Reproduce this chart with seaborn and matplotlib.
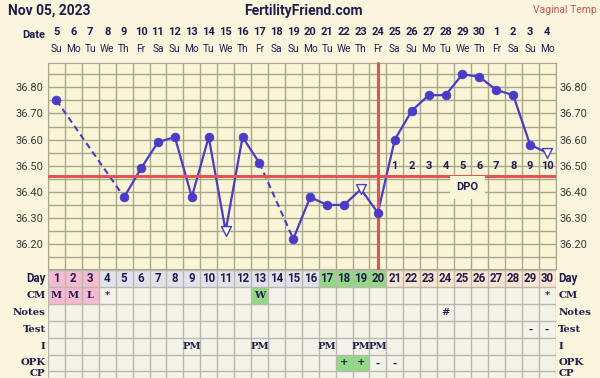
import numpy as np
import pandas as pd
import matplotlib
matplotlib.use("Agg")
import matplotlib.pyplot as plt
import matplotlib.transforms as mtrans
from matplotlib.patches import Rectangle
import seaborn as sns

# ---------------- data ----------------
title_date = "Nov 05, 2023"
site_name = "FertilityFriend.com"
temp_kind = "Vaginal Temp"
date_nums = ["5", "6", "7", "8", "9", "10", "11", "12", "13", "14", "15", "16", "17", "18", "19",
             "20", "21", "22", "23", "24", "25", "26", "27", "28", "29", "30", "1", "2", "3", "4"]
weekdays = ["Su", "Mo", "Tu", "We", "Th", "Fr", "Sa"] * 4 + ["Su", "Mo"]
cycle_days = list(range(1, 31))
temps = [36.75, None, None, None, 36.38, 36.49, 36.59, 36.61, 36.38, 36.61,
         36.25, 36.61, 36.51, None, 36.22, 36.38, 36.35, 36.35, 36.41, 36.32,
         36.60, 36.71, 36.77, 36.77, 36.85, 36.84, 36.79, 36.77, 36.58, 36.55]
discarded_days = [11, 19, 30]
coverline_temp = 36.46
ovulation_day = 20
dpo_days = list(range(21, 31))
dpo_labels = [str(i) for i in range(1, 11)]
y_tick_values = [36.20, 36.30, 36.40, 36.50, 36.60, 36.70, 36.80]

row_labels = ["Day", "CM", "Notes", "Test", "I", "OPK", "CP"]
cm_entries = {1: "M", 2: "M", 3: "L", 4: "*", 13: "W", 30: "*"}
cm_colored = {1: "pink", 2: "pink", 3: "pink", 13: "green"}
notes_entries = {24: "#"}
test_entries = {29: "-", 30: "-"}
i_entries = {9: "PM", 13: "PM", 17: "PM", 19: "PM", 20: "PM"}
opk_entries = {18: "+", 19: "+", 20: "-", 21: "-"}
opk_colored = {18: "green", 19: "green"}
day_phase = ["pink"] * 3 + ["lav"] * 13 + ["green"] * 4 + ["peach"] * 10

# ---------------- style ----------------
PAGE = "#FAF5DC"
PLOT = "#F9F5D6"
GRID = "#ABA68E"
LINE = "#4A3CC6"
RED = "#DE5552"
NAVY = "#1F1D4E"
TABLE_BG = "#F4F3EA"
TGRID = "#B9B8AE"
CELL = {"pink": "#F6BBD0", "lav": "#E2E2EC", "green": "#93D884", "peach": "#FDE4D0"}

sns.set_style("white")
plt.rcParams["font.family"] = ["Roboto", "DejaVu Sans"]

W, H = 600, 378
fig = plt.figure(figsize=(W / 100, H / 100), dpi=100, facecolor=PAGE)

L, R = 48, 555.5
T_top, T_bot = 63, 269
ax = fig.add_axes([L / W, 1 - T_bot / H, (R - L) / W, (T_bot - T_top) / H])
ax.set_facecolor(PLOT)
ax.set_xlim(0.5, 30.5)
ax.set_ylim(36.105, 36.893)

for xv in np.arange(0.5, 31, 1):
    ax.axvline(xv, color=GRID, lw=1.0, zorder=1)
for yv in np.arange(36.10, 36.91, 0.05):
    ax.axhline(yv, color=GRID, lw=1.0, zorder=1)
for s in ax.spines.values():
    s.set_color(GRID)

df = pd.DataFrame({"day": cycle_days, "temp": temps})
df["temp"] = df["temp"].astype(float)
valid = df.dropna()

# solid runs and dashed bridges
runs, cur = [], []
for d, t in zip(df["day"], df["temp"]):
    if np.isnan(t):
        if cur:
            runs.append(cur)
        cur = []
    else:
        cur.append(d)
if cur:
    runs.append(cur)
for run in runs:
    sub = df[df["day"].isin(run)]
    if len(sub) > 1:
        sns.lineplot(data=sub, x="day", y="temp", ax=ax, color=LINE, lw=1.6, zorder=3)
for a, b in zip(runs[:-1], runs[1:]):
    sub = df[df["day"].isin([a[-1], b[0]])]
    sns.lineplot(data=sub, x="day", y="temp", ax=ax, color=LINE, lw=1.5,
                 linestyle=(0, (3, 2)), zorder=3)

# coverline & ovulation line
ax.axhline(coverline_temp, color=RED, lw=2.2, zorder=4)
ax.plot([ovulation_day, ovulation_day], [36.105, 36.893], color=RED, lw=2.2, zorder=4,
        clip_on=False)

normal = valid[~valid["day"].isin(discarded_days)]
disc = valid[valid["day"].isin(discarded_days)]
sns.scatterplot(data=normal, x="day", y="temp", ax=ax, color=LINE, s=40,
                edgecolor=LINE, linewidth=0.5, zorder=5)
sns.scatterplot(data=disc, x="day", y="temp", ax=ax, marker="v", s=50,
                facecolor="white", edgecolor=LINE, linewidth=1.0, zorder=5)

for d, lab in zip(dpo_days, dpo_labels):
    ax.text(d, 36.50, lab, ha="center", va="center", fontsize=8, fontweight="bold",
            color=NAVY, zorder=6)
ax.text(25.3, 36.417, "DPO", ha="center", va="center", fontsize=8, fontweight="bold",
        color=NAVY, zorder=6,
        bbox=dict(facecolor=PLOT, edgecolor="none", boxstyle="square,pad=0.55"))

ax.set_xticks([])
ax.set_yticks(y_tick_values)
ax.set_yticklabels([f"{v:.2f}" for v in y_tick_values])
ax.tick_params(axis="y", length=0, labelsize=8, labelcolor="#3A3A3A", pad=3,
               labelright=True, labelleft=True)
ax.set_xlabel("")
ax.set_ylabel("")
if ax.get_legend():
    ax.get_legend().remove()

# ---------------- header ----------------
bt = mtrans.blended_transform_factory(ax.transData, fig.transFigure)
fig.text(8 / W, 1 - 11 / H, title_date, ha="left", va="center", fontsize=10,
         fontweight="bold", color=NAVY)
fig.text(303 / W, 1 - 11 / H, site_name, ha="center", va="center", fontsize=10,
         fontweight="bold", color=NAVY)
fig.text(597 / W, 1 - 10 / H, temp_kind, ha="right", va="center", fontsize=7.5,
         color="#C55A55")
fig.text(45 / W, 1 - 35 / H, "Date", ha="right", va="center", fontsize=8,
         fontweight="bold", color=NAVY)
for d, dn, wd in zip(cycle_days, date_nums, weekdays):
    ax.text(d, 1 - 32 / H, dn, transform=bt, ha="center", va="center", fontsize=8,
            fontweight="bold", color=NAVY)
    ax.text(d, 1 - 49.5 / H, wd, transform=bt, ha="center", va="center", fontsize=7.3,
            color=NAVY)

# ---------------- table ----------------
row_h = 16.9
tab_top = 270
axt = fig.add_axes([L / W, 0, (R - L) / W, (H - tab_top) / H])
axt.set_xlim(0.5, 30.5)
nrows_vis = (H - tab_top) / row_h
axt.set_ylim(nrows_vis, 0)
axt.set_facecolor(TABLE_BG)
axt.axis("off")
axt.add_patch(Rectangle((0.5, 0), 30, nrows_vis, facecolor=TABLE_BG, edgecolor="none", zorder=0))

for d, ph in zip(cycle_days, day_phase):
    axt.add_patch(Rectangle((d - 0.5, 0), 1, 1, facecolor=CELL[ph], edgecolor="none", zorder=1))
    axt.text(d, 0.5, str(d), ha="center", va="center", fontsize=8.3, fontweight="bold",
             color=NAVY, zorder=3)
for d, c in cm_colored.items():
    axt.add_patch(Rectangle((d - 0.5, 1), 1, 1, facecolor=CELL[c], edgecolor="none", zorder=1))
for d, c in opk_colored.items():
    axt.add_patch(Rectangle((d - 0.5, 5), 1, 1, facecolor=CELL[c], edgecolor="none", zorder=1))

for xv in np.arange(0.5, 31, 1):
    axt.plot([xv, xv], [0, nrows_vis], color=TGRID, lw=1.0, zorder=2)
for yv in range(0, 8):
    axt.plot([0.5, 30.5], [yv, yv], color=TGRID, lw=1.0, zorder=2)

serif = ["DejaVu Serif"]
for r, entries in [(1, cm_entries), (2, notes_entries), (3, test_entries),
                   (4, i_entries), (5, opk_entries)]:
    for d, txt in entries.items():
        axt.text(d, r + 0.5, txt, ha="center", va="center", fontsize=7.2, fontweight="bold",
                 color=NAVY, family=serif, zorder=3)

for r, lab in enumerate(row_labels):
    fam = ["Roboto", "DejaVu Sans"] if lab == "Day" else serif
    fs = 8.3 if lab == "Day" else 7.3
    if lab == "CP":
        yy, va = nrows_vis - 0.02, "bottom"
    else:
        yy, va = r + 0.5, "center"
    axt.text(0.36, yy, lab, ha="right", va=va, fontsize=fs, fontweight="bold",
             color=NAVY, family=fam, clip_on=False)
    axt.text(30.66, yy, lab, ha="left", va=va, fontsize=fs, fontweight="bold",
             color=NAVY, family=fam, clip_on=False)

fig.savefig("out.png", dpi=100, facecolor=PAGE)
